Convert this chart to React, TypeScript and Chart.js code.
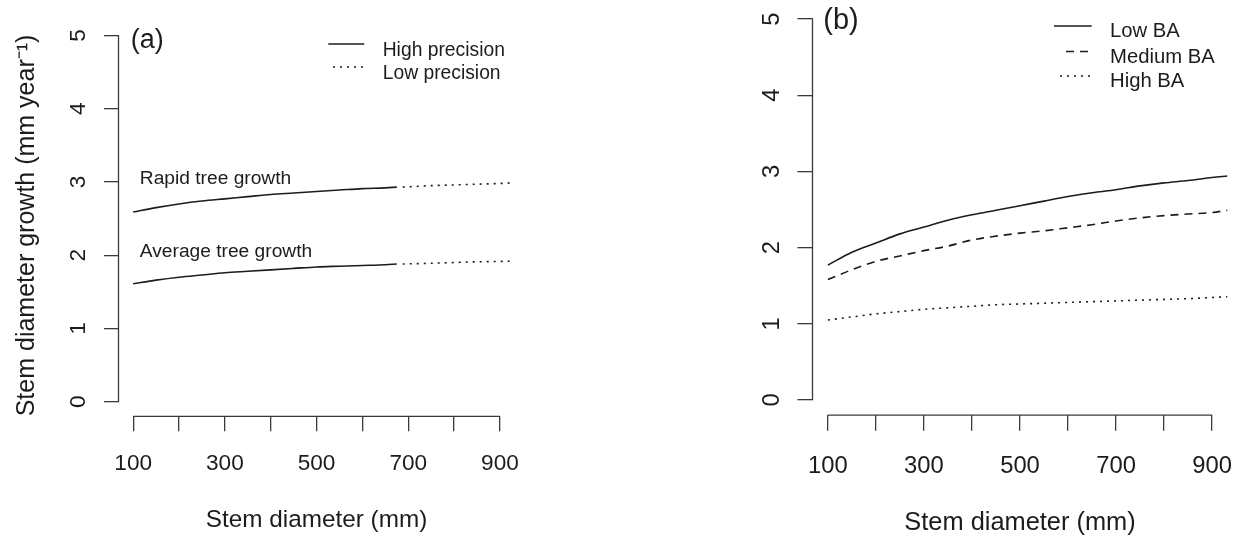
import React, { useEffect, useRef } from 'react';
import { Chart, registerables } from 'chart.js';

Chart.register(...registerables);

// ---------------- data ----------------
// Panel (a)
const A_X_SOLID = [100, 150, 200, 250, 300, 350, 400, 450, 500, 550, 600, 650, 675];
const A_RAPID_SOLID = [2.59, 2.65, 2.7, 2.74, 2.77, 2.8, 2.83, 2.85, 2.87, 2.89, 2.91, 2.92, 2.93];
const A_AVG_SOLID = [1.61, 1.66, 1.7, 1.73, 1.76, 1.78, 1.8, 1.82, 1.84, 1.85, 1.86, 1.87, 1.88];
const A_X_DOTTED = [688, 750, 800, 850, 900, 932];
const A_RAPID_DOTTED = [2.93, 2.95, 2.96, 2.97, 2.98, 2.99];
const A_AVG_DOTTED = [1.88, 1.89, 1.9, 1.91, 1.915, 1.92];

// Panel (b)
const B_X = [100, 150, 200, 250, 300, 350, 400, 450, 500, 550, 600, 650, 700, 750, 800, 850, 900, 932];
const B_LOW = [1.77, 1.94, 2.06, 2.18, 2.27, 2.36, 2.43, 2.49, 2.55, 2.61, 2.67, 2.72, 2.76, 2.81, 2.85, 2.88, 2.92, 2.94];
const B_MED = [1.58, 1.71, 1.82, 1.89, 1.96, 2.02, 2.1, 2.15, 2.19, 2.22, 2.26, 2.3, 2.35, 2.39, 2.42, 2.44, 2.46, 2.49];
const B_HIGH = [1.05, 1.09, 1.13, 1.16, 1.19, 1.21, 1.23, 1.25, 1.26, 1.27, 1.28, 1.29, 1.3, 1.31, 1.32, 1.33, 1.345, 1.355];

// Axes
const X_MIN = 68;
const X_MAX = 932;
const Y_MIN = -0.2;
const Y_MAX = 5.2;
const X_TICKS = [100, 200, 300, 400, 500, 600, 700, 800, 900];
const X_TICK_LABELS = ['100', '', '300', '', '500', '', '700', '', '900'];
const Y_TICKS = [0, 1, 2, 3, 4, 5];
const Y_TICK_LABELS = ['0', '1', '2', '3', '4', '5'];
const X_TITLE = 'Stem diameter (mm)';
const Y_TITLE = 'Stem diameter growth (mm year\u207B\u00B9)';

const A_LEGEND = ['High precision', 'Low precision'];
const B_LEGEND = ['Low BA', 'Medium BA', 'High BA'];
const A_ANNOT = ['Rapid tree growth', 'Average tree growth'];

// ---------------- styles ----------------
const FONT = "'Liberation Sans', Arial, Helvetica, sans-serif";
const INK = '#1c1c1c';
const AXIS = '#3a3a3a';
const SOLID: number[] = [];
const DASHED = [8, 6];
const DOTTED = [2, 5];
const H = 539;

const pts = (xs: number[], ys: number[]) => xs.map((x, i) => ({ x, y: ys[i] }));

const lineDs = (label: string, data: any[], dash: number[]) => ({
  label,
  data,
  borderColor: INK,
  backgroundColor: INK,
  borderWidth: 1.6,
  borderDash: dash,
  pointRadius: 0,
  fill: false,
  cubicInterpolationMode: 'monotone' as const,
});

type LegendItem = { text: string; dash: number[]; x1: number; x2: number; lineY: number; textX: number; textY: number };
type Annot = { text: string; xv: number; yv: number };

type PanelCfg = {
  left: number;
  width: number;
  padding: { left: number; top: number; right: number; bottom: number };
  yWidth: number;
  xHeight: number;
  tickSize: number;
  xTickPad: number;
  yTickPad: number;
  xTickLen: number;
  yTickLen: number;
  xTitleSize: number;
  xTitlePad: number;
  yTitle: boolean;
  yTitleSize: number;
  yTitlePad: number;
  datasets: any[];
  tag: { text: string; x: number; y: number; size: number };
  legend: LegendItem[];
  legendSize: number;
  annots: Annot[];
  annotSize: number;
};

function overlay(cfg: PanelCfg) {
  return {
    id: 'overlay',
    afterDraw(chart: any) {
      const { ctx, chartArea } = chart;
      const xs = chart.scales.x;
      const ys = chart.scales.y;
      ctx.save();
      // R-style axis lines spanning the first to the last tick
      ctx.strokeStyle = AXIS;
      ctx.lineWidth = 1.3;
      ctx.setLineDash([]);
      ctx.beginPath();
      ctx.moveTo(xs.getPixelForValue(X_TICKS[0]), chartArea.bottom);
      ctx.lineTo(xs.getPixelForValue(X_TICKS[X_TICKS.length - 1]), chartArea.bottom);
      ctx.moveTo(chartArea.left, ys.getPixelForValue(Y_TICKS[0]));
      ctx.lineTo(chartArea.left, ys.getPixelForValue(Y_TICKS[Y_TICKS.length - 1]));
      ctx.stroke();

      // panel tag
      ctx.fillStyle = INK;
      ctx.textAlign = 'left';
      ctx.textBaseline = 'alphabetic';
      ctx.font = `${cfg.tag.size}px ${FONT}`;
      ctx.fillText(cfg.tag.text, cfg.tag.x, cfg.tag.y);

      // legend
      ctx.font = `${cfg.legendSize}px ${FONT}`;
      cfg.legend.forEach((it) => {
        ctx.strokeStyle = INK;
        ctx.lineWidth = 1.6;
        ctx.setLineDash(it.dash);
        ctx.beginPath();
        ctx.moveTo(it.x1, it.lineY);
        ctx.lineTo(it.x2, it.lineY);
        ctx.stroke();
        ctx.setLineDash([]);
        ctx.fillText(it.text, it.textX, it.textY);
      });

      // annotations in data coordinates
      ctx.font = `${cfg.annotSize}px ${FONT}`;
      cfg.annots.forEach((a) => {
        ctx.fillText(a.text, xs.getPixelForValue(a.xv), ys.getPixelForValue(a.yv));
      });
      ctx.restore();
    },
  };
}

function Panel({ cfg }: { cfg: PanelCfg }) {
  const ref = useRef<HTMLCanvasElement>(null);
  useEffect(() => {
    const chart = new Chart(ref.current as HTMLCanvasElement, {
      type: 'line',
      data: { datasets: cfg.datasets },
      options: {
        animation: false,
        responsive: false,
        maintainAspectRatio: false,
        events: [],
        layout: { padding: cfg.padding },
        plugins: { legend: { display: false }, tooltip: { enabled: false }, title: { display: false } },
        scales: {
          x: {
            type: 'linear',
            position: 'bottom',
            min: X_MIN,
            max: X_MAX,
            afterBuildTicks: (s: any) => {
              s.ticks = X_TICKS.map((v) => ({ value: v }));
            },
            afterFit: (s: any) => {
              s.height = cfg.xHeight;
              s.paddingLeft = 0;
              s.paddingRight = 0;
              s.paddingTop = 0;
              s.paddingBottom = 0;
            },
            grid: { display: true, drawOnChartArea: false, drawTicks: true, tickLength: cfg.xTickLen, color: AXIS, lineWidth: 1.3 },
            border: { display: false },
            ticks: {
              autoSkip: false,
              maxRotation: 0,
              minRotation: 0,
              padding: cfg.xTickPad,
              color: INK,
              font: { family: FONT, size: cfg.tickSize },
              callback: (v: any) => {
                const i = X_TICKS.indexOf(Number(v));
                return i >= 0 ? X_TICK_LABELS[i] : '';
              },
            },
            title: {
              display: true,
              text: X_TITLE,
              color: INK,
              font: { family: FONT, size: cfg.xTitleSize },
              padding: { top: 0, bottom: cfg.xTitlePad },
            },
          },
          y: {
            type: 'linear',
            position: 'left',
            min: Y_MIN,
            max: Y_MAX,
            afterBuildTicks: (s: any) => {
              s.ticks = Y_TICKS.map((v) => ({ value: v }));
            },
            afterFit: (s: any) => {
              s.width = cfg.yWidth;
              s.paddingLeft = 0;
              s.paddingRight = 0;
              s.paddingTop = 0;
              s.paddingBottom = 0;
            },
            grid: { display: true, drawOnChartArea: false, drawTicks: true, tickLength: cfg.yTickLen, color: AXIS, lineWidth: 1.3 },
            border: { display: false },
            ticks: {
              minRotation: 90,
              maxRotation: 90,
              crossAlign: 'center',
              padding: cfg.yTickPad,
              color: INK,
              font: { family: FONT, size: cfg.tickSize },
              callback: (v: any) => {
                const i = Y_TICKS.indexOf(Number(v));
                return i >= 0 ? Y_TICK_LABELS[i] : '';
              },
            },
            title: {
              display: cfg.yTitle,
              text: Y_TITLE,
              align: 'start',
              color: INK,
              font: { family: FONT, size: cfg.yTitleSize },
              padding: { top: cfg.yTitlePad, bottom: 0 },
            },
          },
        },
      } as any,
      plugins: [overlay(cfg)],
    });
    return () => chart.destroy();
  }, []);
  return (
    <canvas
      ref={ref}
      width={cfg.width}
      height={H}
      style={{ position: 'absolute', left: cfg.left, top: 0, width: cfg.width, height: H }}
    />
  );
}

const PANEL_A: PanelCfg = {
  left: 0,
  width: 618,
  padding: { left: 0, top: 20.9, right: 103.4, bottom: 0 },
  yWidth: 118.5,
  xHeight: 122.7,
  tickSize: 22.6,
  xTickPad: 18.5,
  yTickPad: 18.7,
  xTickLen: 15,
  yTickLen: 14.5,
  xTitleSize: 24.3,
  xTitlePad: 4.4,
  yTitle: true,
  yTitleSize: 25,
  yTitlePad: 11.8,
  datasets: [
    lineDs('Rapid high', pts(A_X_SOLID, A_RAPID_SOLID), SOLID),
    lineDs('Rapid low', pts(A_X_DOTTED, A_RAPID_DOTTED), DOTTED),
    lineDs('Average high', pts(A_X_SOLID, A_AVG_SOLID), SOLID),
    lineDs('Average low', pts(A_X_DOTTED, A_AVG_DOTTED), DOTTED),
  ],
  tag: { text: '(a)', x: 130.7, y: 47.6, size: 27 },
  legend: [
    { text: A_LEGEND[0], dash: SOLID, x1: 328.3, x2: 364.3, lineY: 44, textX: 382.7, textY: 55.5 },
    { text: A_LEGEND[1], dash: DOTTED, x1: 333, x2: 364, lineY: 67, textX: 382.7, textY: 78.5 },
  ],
  legendSize: 19.3,
  annots: [
    { text: A_ANNOT[0], xv: 114.4, yv: 2.968 },
    { text: A_ANNOT[1], xv: 114.4, yv: 1.974 },
  ],
  annotSize: 19.2,
};

const PANEL_B: PanelCfg = {
  left: 618,
  width: 618,
  padding: { left: 0, top: 3.8, right: 8.5, bottom: 0 },
  yWidth: 194.5,
  xHeight: 123.8,
  tickSize: 23.8,
  xTickPad: 21,
  yTickPad: 18,
  xTickLen: 15.5,
  yTickLen: 15,
  xTitleSize: 25.4,
  xTitlePad: 1,
  yTitle: false,
  yTitleSize: 25.4,
  yTitlePad: 0,
  datasets: [
    lineDs('Low BA', pts(B_X, B_LOW), SOLID),
    lineDs('Medium BA', pts(B_X, B_MED), DASHED),
    lineDs('High BA', pts(B_X, B_HIGH), DOTTED),
  ],
  tag: { text: '(b)', x: 205.3, y: 28.5, size: 29 },
  legend: [
    { text: B_LEGEND[0], dash: SOLID, x1: 436, x2: 473.7, lineY: 26, textX: 492, textY: 37 },
    { text: B_LEGEND[1], dash: DASHED, x1: 448, x2: 472, lineY: 51.5, textX: 492, textY: 62.7 },
    { text: B_LEGEND[2], dash: DOTTED, x1: 442, x2: 473, lineY: 76, textX: 492, textY: 87 },
  ],
  legendSize: 20.3,
  annots: [],
  annotSize: 20,
};

export default function App() {
  return (
    <div style={{ position: 'absolute', left: 0, top: 0, width: 1236, height: H, background: '#fff', overflow: 'hidden' }}>
      <Panel cfg={PANEL_A} />
      <Panel cfg={PANEL_B} />
    </div>
  );
}
